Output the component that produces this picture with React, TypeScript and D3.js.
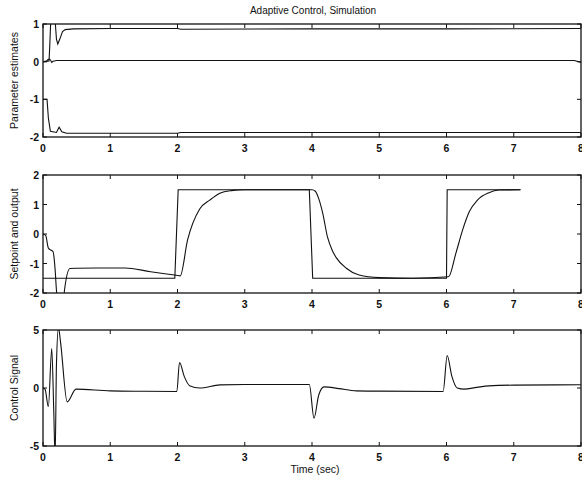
import React, { useEffect, useRef } from 'react';
import * as d3 from 'd3';

// parameter estimates (top panel)
const paramATime = [0, 0.09, 0.1, 0.12, 0.15, 0.18, 0.2, 0.22, 0.25, 0.29, 0.33, 0.45, 1, 2, 2.05, 4, 6, 8];
const paramAValue = [0, 0.02, 0.4, 1.3, 1.3, 1.1, 0.6, 0.47, 0.6, 0.8, 0.85, 0.87, 0.88, 0.88, 0.86, 0.87, 0.87, 0.88];
const paramBTime = [0, 0.05, 0.07, 0.09, 0.11, 0.13, 0.15, 0.2, 2, 4, 6, 7.9, 8];
const paramBValue = [0, 0, 0.05, 0.07, 0.05, -0.02, 0.01, 0.03, 0.03, 0.03, 0.03, 0.03, -0.02];
const paramCTime = [0, 0.06, 0.08, 0.11, 0.2, 0.24, 0.28, 0.35, 2, 2.05, 4, 6, 8];
const paramCValue = [-1, -1, -1.5, -1.85, -1.88, -1.74, -1.86, -1.9, -1.9, -1.88, -1.88, -1.88, -1.88];

// setpoint and output (middle panel)
const setpointTime = [0, 1.96, 2.01, 3.96, 4.01, 6.0, 6.01, 7.1];
const setpointValue = [-1.5, -1.5, 1.5, 1.5, -1.5, -1.5, 1.5, 1.5];
const outputTime = [0, 0.04, 0.08, 0.15, 0.18, 0.2, 0.22, 0.3, 0.32, 0.4, 0.5, 0.8, 1.22, 1.6, 1.98, 2.04, 2.15, 2.33, 2.48, 2.63, 2.8, 3.0, 3.5, 4.0, 4.05, 4.1, 4.16, 4.23, 4.3, 4.36, 4.51, 4.7, 5.0, 5.5, 6.03, 6.14, 6.24, 6.34, 6.46, 6.63, 6.78, 7.1];
const outputValue = [0, -0.05, -0.48, -0.6, -1.2, -1.9, -2.3, -2.3, -1.9, -1.17, -1.16, -1.15, -1.15, -1.28, -1.4, -1.42, -0.2, 0.85, 1.15, 1.38, 1.47, 1.5, 1.5, 1.5, 1.45, 1.2, 0.7, -0.1, -0.55, -0.8, -1.16, -1.39, -1.48, -1.5, -1.45, -0.65, 0.14, 0.76, 1.15, 1.4, 1.49, 1.5];

// control signal (bottom panel)
const controlTime = [0, 0.03, 0.08, 0.13, 0.16, 0.18, 0.2, 0.23, 0.26, 0.36, 0.49, 1, 1.5, 1.99, 2.03, 2.1, 2.18, 2.33, 2.63, 3.0, 3.96, 4.03, 4.1, 4.18, 4.4, 4.66, 5.0, 5.95, 6.01, 6.08, 6.16, 6.26, 6.45, 6.63, 7, 8];
const controlValue = [0, -0.1, -1.6, 3.4, -2, -6, 2, 5.2, 4, -1.2, -0.1, -0.25, -0.28, -0.3, 2.2, 1.0, 0.2, 0.0, 0.27, 0.3, 0.3, -2.6, -0.6, 0.1, -0.05, -0.25, -0.27, -0.3, 2.8, 1.0, 0.0, -0.1, 0.05, 0.18, 0.25, 0.28];

const xTicks = [0, 1, 2, 3, 4, 5, 6, 7, 8];

const App = () => {
  const svgRef = useRef(null);

  useEffect(() => {
    const width = 582;
    const height = 478;
    const left = 43;
    const right = 581;

    const svg = d3.select(svgRef.current).attr('width', width).attr('height', height);
    svg.selectAll('*').remove();

    const x = d3.scaleLinear().domain([0, 8]).range([left, right]);

    const panels = [
      {
        id: 'p1', top: 24, bottom: 137, domain: [-2, 1], yTicks: [-2, -1, 0, 1], label: 'Parameter estimates',
        series: [
          { t: paramATime, v: paramAValue, curve: d3.curveLinear },
          { t: paramBTime, v: paramBValue, curve: d3.curveLinear },
          { t: paramCTime, v: paramCValue, curve: d3.curveLinear },
        ],
      },
      {
        id: 'p2', top: 175, bottom: 293, domain: [-2, 2], yTicks: [-2, -1, 0, 1, 2], label: 'Setpoint and output',
        series: [
          { t: setpointTime, v: setpointValue, curve: d3.curveLinear },
          { t: outputTime, v: outputValue, curve: d3.curveMonotoneX },
        ],
      },
      {
        id: 'p3', top: 330, bottom: 446, domain: [-5, 5], yTicks: [-5, 0, 5], label: 'Control Signal',
        series: [{ t: controlTime, v: controlValue, curve: d3.curveMonotoneX }],
      },
    ];

    const font = 'Arial, "Liberation Sans", Helvetica, sans-serif';

    panels.forEach(p => {
      const y = d3.scaleLinear().domain(p.domain).range([p.bottom, p.top]);
      const g = svg.append('g');

      g.append('clipPath')
        .attr('id', `clip-${p.id}`)
        .append('rect')
        .attr('x', left)
        .attr('y', p.top)
        .attr('width', right - left)
        .attr('height', p.bottom - p.top);

      p.series.forEach(s => {
        const pts = s.t.map((t, i) => [t, s.v[i]]);
        const line = d3.line().x(d => x(d[0])).y(d => y(d[1])).curve(s.curve);
        g.append('path')
          .attr('d', line(pts))
          .attr('fill', 'none')
          .attr('stroke', '#111')
          .attr('stroke-width', 1.1)
          .attr('clip-path', `url(#clip-${p.id})`);
      });

      g.append('rect')
        .attr('x', left)
        .attr('y', p.top)
        .attr('width', right - left)
        .attr('height', p.bottom - p.top)
        .attr('fill', 'none')
        .attr('stroke', '#111')
        .attr('stroke-width', 1.3);

      // x ticks, inward on top and bottom
      xTicks.forEach(t => {
        g.append('line').attr('x1', x(t)).attr('x2', x(t)).attr('y1', p.bottom).attr('y2', p.bottom - 4).attr('stroke', '#111');
        g.append('line').attr('x1', x(t)).attr('x2', x(t)).attr('y1', p.top).attr('y2', p.top + 4).attr('stroke', '#111');
        g.append('text')
          .attr('x', x(t))
          .attr('y', p.bottom + 15)
          .attr('text-anchor', 'middle')
          .style('font-family', font)
          .style('font-size', '10.5px')
          .style('font-weight', 'bold')
          .attr('fill', '#111')
          .text(t);
      });

      // y ticks, inward on left and right
      p.yTicks.forEach(v => {
        g.append('line').attr('x1', left).attr('x2', left + 4).attr('y1', y(v)).attr('y2', y(v)).attr('stroke', '#111');
        g.append('line').attr('x1', right).attr('x2', right - 4).attr('y1', y(v)).attr('y2', y(v)).attr('stroke', '#111');
        g.append('text')
          .attr('x', left - 4)
          .attr('y', y(v) + 4)
          .attr('text-anchor', 'end')
          .style('font-family', font)
          .style('font-size', '10.5px')
          .style('font-weight', 'bold')
          .attr('fill', '#111')
          .text(v);
      });

      g.append('text')
        .attr('transform', `translate(18,${(p.top + p.bottom) / 2}) rotate(-90)`)
        .attr('text-anchor', 'middle')
        .style('font-family', font)
        .style('font-size', '10.5px')
        .attr('fill', '#111')
        .text(p.label);
    });

    svg.append('text')
      .attr('x', 313)
      .attr('y', 14)
      .attr('text-anchor', 'middle')
      .style('font-family', font)
      .style('font-size', '10px')
      .attr('fill', '#111')
      .text('Adaptive Control, Simulation');

    svg.append('text')
      .attr('x', 315)
      .attr('y', 473)
      .attr('text-anchor', 'middle')
      .style('font-family', font)
      .style('font-size', '10.5px')
      .attr('fill', '#111')
      .text('Time (sec)');
  }, []);

  return (
    <svg ref={svgRef} style={{ position: 'absolute', left: 0, top: 0, background: '#fff' }}></svg>
  );
};

export default App;
